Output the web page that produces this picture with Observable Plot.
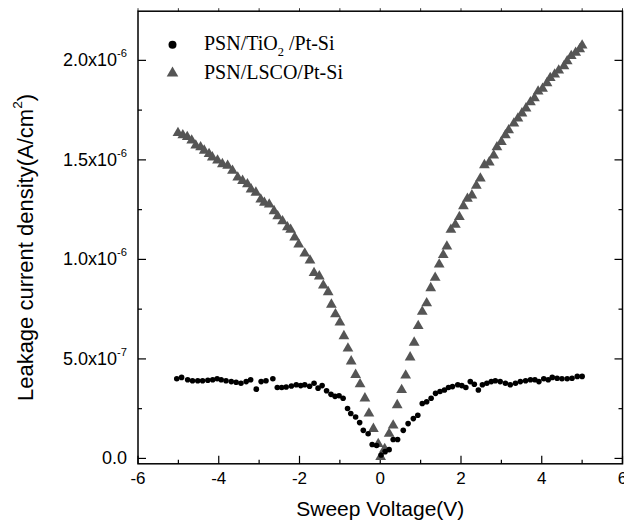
<!DOCTYPE html>
<html><head><meta charset="utf-8">
<script src="https://cdn.jsdelivr.net/npm/d3@7"></script>
<script src="https://cdn.jsdelivr.net/npm/@observablehq/plot@0.6"></script>
<style>body{margin:0;background:#fff}#chart svg{display:block}</style>
</head><body><div id="chart"></div>
<script>
// PSN/TiO2/Pt-Si  (voltage in V, current density in units of 1e-7 A/cm^2)
const tio2V = [-5.04,-4.92,-4.77,-4.65,-4.52,-4.40,-4.27,-4.15,-4.04,-3.94,-3.82,-3.69,-3.57,-3.45,-3.32,-3.21,-3.07,-2.95,-2.83,-2.66,-2.55,-2.44,-2.33,-2.20,-2.08,-1.97,-1.87,-1.75,-1.64,-1.54,-1.44,-1.33,-1.22,-1.12,-1.02,-0.92,-0.81,-0.73,-0.61,-0.51,-0.42,-0.30,-0.20,-0.09,0.02,0.12,0.22,0.32,0.43,0.57,0.69,0.82,0.93,1.04,1.15,1.26,1.37,1.48,1.59,1.69,1.79,1.92,2.02,2.12,2.23,2.33,2.43,2.53,2.64,2.75,2.85,2.97,3.10,3.22,3.35,3.47,3.60,3.72,3.83,3.93,4.05,4.16,4.26,4.38,4.50,4.63,4.75,4.88,5.00];
const tio2J = [4.00,4.07,3.95,3.90,3.90,3.90,3.93,3.95,4.00,3.95,3.90,3.86,3.83,3.78,3.86,3.95,3.48,3.86,3.90,4.00,3.56,3.56,3.59,3.64,3.70,3.66,3.70,3.63,3.78,3.53,3.66,3.40,3.22,3.12,3.15,3.02,2.51,2.26,2.08,1.80,1.41,1.24,0.70,0.65,0.17,0.34,0.44,0.95,0.95,1.41,1.75,2.00,2.17,2.76,2.85,3.02,3.27,3.36,3.44,3.56,3.61,3.70,3.66,3.56,3.86,3.73,3.44,3.70,3.78,3.86,3.90,3.86,3.78,3.70,3.78,3.86,3.90,3.95,3.95,3.86,4.00,3.95,4.07,4.03,4.00,4.00,4.03,4.12,4.12];
// PSN/LSCO/Pt-Si
const lscoV = [-5.01,-4.89,-4.78,-4.67,-4.57,-4.45,-4.36,-4.24,-4.16,-4.03,-3.91,-3.78,-3.66,-3.53,-3.41,-3.29,-3.20,-3.08,-2.96,-2.87,-2.75,-2.63,-2.54,-2.42,-2.30,-2.22,-2.12,-2.02,-1.87,-1.74,-1.64,-1.51,-1.41,-1.29,-1.21,-1.11,-1.00,-0.90,-0.80,-0.72,-0.61,-0.50,-0.38,-0.28,-0.17,-0.05,0.01,0.11,0.22,0.32,0.42,0.53,0.63,0.74,0.84,0.94,1.04,1.15,1.25,1.36,1.46,1.56,1.65,1.75,1.86,1.96,2.06,2.16,2.27,2.38,2.48,2.58,2.70,2.81,2.89,3.00,3.10,3.18,3.31,3.41,3.51,3.61,3.72,3.82,3.91,4.02,4.13,4.21,4.32,4.42,4.55,4.63,4.73,4.84,4.94,5.00];
const lscoJ = [16.35,16.24,16.15,15.98,15.73,15.64,15.47,15.30,15.13,14.97,14.79,14.71,14.46,14.12,13.95,13.78,13.52,13.36,13.01,12.85,12.76,12.43,12.17,11.92,11.62,11.49,11.10,10.75,10.30,9.95,9.32,9.15,8.69,8.36,7.73,7.25,6.83,6.15,5.53,4.88,4.20,3.73,3.02,2.26,1.49,0.73,0.08,0.48,1.24,1.66,2.68,3.44,4.17,5.08,5.82,6.66,7.37,7.80,8.56,9.08,9.75,10.22,10.65,11.49,11.74,12.13,12.68,13.05,13.22,13.70,14.07,14.74,14.88,15.22,15.64,15.90,16.24,16.49,16.83,17.08,17.34,17.59,17.90,18.10,18.44,18.58,18.86,19.12,19.29,19.49,19.71,19.96,20.22,20.39,20.56,20.75];
const unit = 1e-7;

const xTicksMajor = [-6, -4, -2, 0, 2, 4, 6];
const xTickLabels = ["-6", "-4", "-2", "0", "2", "4", "6"];
const xTicksMinor = [-5, -3, -1, 1, 3, 5];
const xTicksAll = [-6, -5, -4, -3, -2, -1, 0, 1, 2, 3, 4, 5, 6];
const yTicksMajor = [0, 5e-7, 1e-6, 1.5e-6, 2e-6];
const yTickLabels = ["0.0", "5.0x10^{-7}", "1.0x10^{-6}", "1.5x10^{-6}", "2.0x10^{-6}"];
const yTicksMinor = [2.5e-7, 7.5e-7, 1.25e-6, 1.75e-6];
const xTitle = "Sweep Voltage(V)";
const yTitle = "Leakage current density(A/cm^{2})";
const seriesNames = ["PSN/TiO_{2} /Pt-Si", "PSN/LSCO/Pt-Si"];
const seriesColors = ["#000000", "#555555"];

const tio2 = tio2V.map((v, i) => ({v, j: tio2J[i] * unit}));
const lsco = lscoV.map((v, i) => ({v, j: lscoJ[i] * unit}));

const sans = "'Liberation Sans', Arial, sans-serif";
const serif = "'Liberation Serif', 'Times New Roman', serif";
const tickSym = (dx, dy) => ({draw(ctx) { ctx.moveTo(0, 0); ctx.lineTo(dx, dy); }});
const tk = {stroke: "black", fill: "none", strokeWidth: 1.2};

const chart = Plot.plot({
  width: 624,
  height: 526,
  marginLeft: 137.5,
  marginRight: 2,
  marginTop: 10.7,
  marginBottom: 62.7,
  x: {domain: [-6, 6], axis: null},
  y: {domain: [-0.027e-6, 2.247e-6], axis: null},
  marks: [
    Plot.frame({stroke: "black", strokeWidth: 1.5}),
    // ticks
    Plot.dot(xTicksMajor, {x: d => d, frameAnchor: "bottom", symbol: tickSym(0, -8), ...tk}),
    Plot.dot(xTicksMinor, {x: d => d, frameAnchor: "bottom", symbol: tickSym(0, -4), ...tk}),
    Plot.dot(xTicksAll, {x: d => d, frameAnchor: "top", symbol: tickSym(0, -3), ...tk, strokeWidth: 0.8}),
    Plot.dot(yTicksMajor, {y: d => d, frameAnchor: "left", symbol: tickSym(8, 0), ...tk}),
    Plot.dot(yTicksMinor, {y: d => d, frameAnchor: "left", symbol: tickSym(4, 0), ...tk}),
    Plot.dot(yTicksMajor, {y: d => d, frameAnchor: "right", symbol: tickSym(-8, 0), ...tk}),
    Plot.dot(yTicksMinor, {y: d => d, frameAnchor: "right", symbol: tickSym(-4, 0), ...tk}),
    // tick labels
    Plot.text(xTicksMajor, {x: d => d, frameAnchor: "bottom", dy: 15, text: (d, i) => xTickLabels[i], textAnchor: "middle", fontSize: 17, fontFamily: sans, lineAnchor: "middle", fill: "black"}),
    Plot.text(yTicksMajor, {y: d => d, frameAnchor: "left", dx: -11, text: (d, i) => yTickLabels[i], textAnchor: "end", fontSize: 18, fontFamily: sans, lineAnchor: "middle", fill: "black"}),
    // axis titles
    Plot.text([xTitle], {frameAnchor: "bottom", dy: 45, text: d => d, textAnchor: "middle", fontSize: 21, fontFamily: sans, lineAnchor: "middle", fill: "black"}),
    Plot.text([yTitle], {frameAnchor: "left", dx: -112, dy: 10, rotate: -90, text: d => d, textAnchor: "middle", fontSize: 22, fontFamily: sans, lineAnchor: "middle", fill: "black"}),
    // data
    Plot.dot(lsco, {x: "v", y: "j", symbol: "triangle", r: 4, fill: seriesColors[1], stroke: "none"}),
    Plot.dot(tio2, {x: "v", y: "j", symbol: "circle", r: 2.8, fill: seriesColors[0], stroke: "none"}),
    // legend
    Plot.dot([seriesNames[0]], {frameAnchor: "top-left", dx: 34.5, dy: 33.5, symbol: "circle", r: 4, fill: seriesColors[0], stroke: "none"}),
    Plot.dot([seriesNames[1]], {frameAnchor: "top-left", dx: 34.5, dy: 62, symbol: "triangle", r: 4.3, fill: seriesColors[1], stroke: "none"}),
    Plot.text([seriesNames[0]], {frameAnchor: "top-left", dx: 66, dy: 32, text: d => d, textAnchor: "start", lineAnchor: "middle", fontSize: 20, fontFamily: serif, fill: "black"}),
    Plot.text([seriesNames[1]], {frameAnchor: "top-left", dx: 66, dy: 61, text: d => d, textAnchor: "start", lineAnchor: "middle", fontSize: 20, fontFamily: serif, fill: "black"})
  ]
});

// super/subscript markup: ^{..} and _{..}
chart.querySelectorAll("text").forEach(t => {
  const s = t.textContent;
  if (!/[\^_]\{/.test(s)) return;
  const parts = s.split(/(\^\{[^}]*\}|_\{[^}]*\})/).filter(p => p !== "");
  t.textContent = "";
  let shift = 0;
  const ns = "http://www.w3.org/2000/svg";
  parts.forEach(p => {
    const ts = document.createElementNS(ns, "tspan");
    let target = 0;
    if (p.startsWith("^{")) { target = -0.5; p = p.slice(2, -1); ts.setAttribute("font-size", "0.62em"); }
    else if (p.startsWith("_{")) { target = 0.3; p = p.slice(2, -1); ts.setAttribute("font-size", "0.62em"); }
    const d = target - shift;
    if (d !== 0) {
      const em = ts.hasAttribute("font-size") ? d / 0.62 : d;
      ts.setAttribute("dy", em + "em");
    }
    shift = target;
    ts.textContent = p;
    t.appendChild(ts);
  });
});

document.getElementById("chart").appendChild(chart);
</script>
</body></html>
